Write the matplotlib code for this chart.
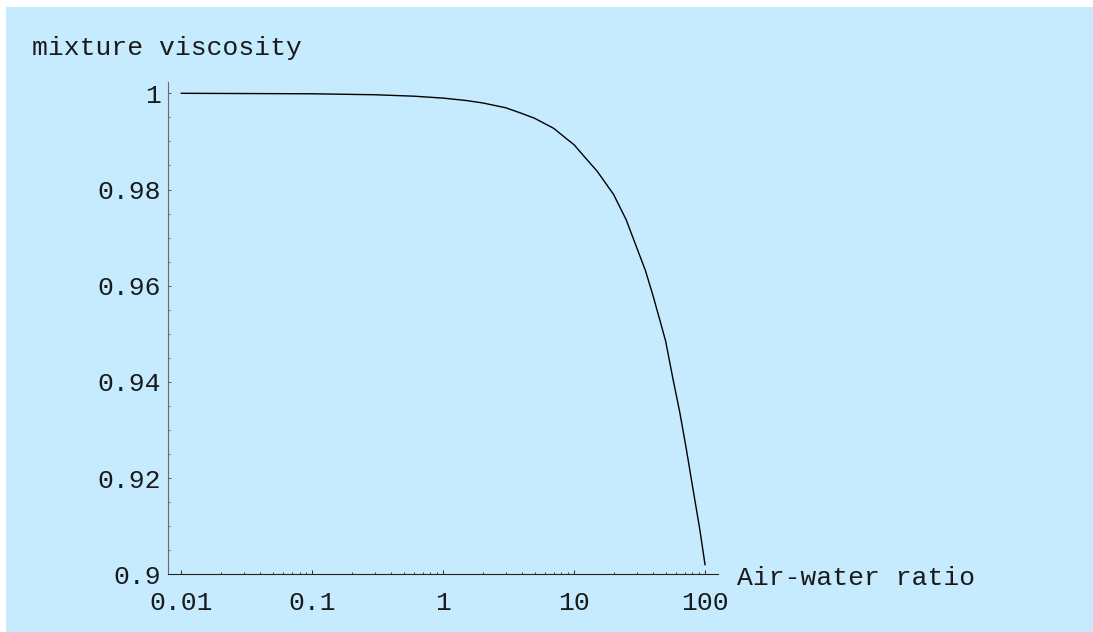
import matplotlib
matplotlib.use("Agg")
import matplotlib.pyplot as plt
import numpy as np
from matplotlib.patches import Rectangle
from matplotlib.ticker import FixedLocator, FixedFormatter, NullFormatter

# Data
air_water_ratio = [0.01, 0.1, 0.3, 0.6, 1, 1.5, 2, 3, 4, 5, 7, 8.8, 10, 12, 15, 20, 25, 30,
                   35, 40, 45, 50, 57, 64, 72, 80, 91, 100]
mixture_viscosity = [1.0, 0.9999, 0.9997, 0.9994, 0.999, 0.9985, 0.998, 0.997, 0.9958, 0.9948,
                     0.9927, 0.9905, 0.9893, 0.9868, 0.9838, 0.979, 0.9737, 0.968,
                     0.9632, 0.958, 0.953, 0.9485, 0.9405, 0.9338, 0.926, 0.9185, 0.9095, 0.902]
x_ticks = [0.01, 0.1, 1, 10, 100]
x_tick_labels = ["0.01", "0.1", "1", "10", "100"]
y_ticks = [0.9, 0.92, 0.94, 0.96, 0.98, 1.0]
y_tick_labels = ["0.9", "0.92", "0.94", "0.96", "0.98", "1"]
y_label = "mixture viscosity"
x_label = "Air-water ratio"

W, H = 1093, 632
FONT = ["Liberation Mono", "DejaVu Sans Mono"]
FS = 19
TXT = "#1a1a1a"
BG = "#c6ebff"

fig = plt.figure(figsize=(W / 100, H / 100), dpi=100, facecolor="white")
fig.patches.append(Rectangle((6 / W, 0), 1 - 6 / W, 1 - 7 / H, transform=fig.transFigure,
                             facecolor=BG, edgecolor="none", zorder=-10))

left, right, top, bottom = 168, 718, 82, 574.3
ax = fig.add_axes([left / W, (H - bottom) / H, (right - left) / W, (bottom - top) / H])
ax.set_facecolor("none")
ax.set_xscale("log")
ax.plot(air_water_ratio, mixture_viscosity, color="black", lw=1.0, solid_joinstyle="round")

ax.set_xlim(10 ** -2.1015, 10 ** 2.099)
ax.set_ylim(0.9, 1.00235)

for s in ["top", "right"]:
    ax.spines[s].set_visible(False)
ax.spines["left"].set_color("#6a6a6a")
ax.spines["left"].set_linewidth(0.8)
ax.spines["bottom"].set_color("#222222")
ax.spines["bottom"].set_linewidth(0.8)

ax.xaxis.set_major_locator(FixedLocator(x_ticks))
ax.xaxis.set_major_formatter(FixedFormatter(x_tick_labels))
minor_x = [m * 10.0 ** e for e in range(-2, 2) for m in range(2, 10)]
ax.xaxis.set_minor_locator(FixedLocator(minor_x))
ax.xaxis.set_minor_formatter(NullFormatter())

ax.yaxis.set_major_locator(FixedLocator(y_ticks))
ax.yaxis.set_major_formatter(FixedFormatter(y_tick_labels))
ax.yaxis.set_minor_locator(FixedLocator([0.9 + 0.005 * i for i in range(21)]))

ax.tick_params(axis="x", which="major", direction="in", length=2.8, width=0.75, color="#333333",
               pad=12, labelsize=FS, labelcolor=TXT)
ax.tick_params(axis="x", which="minor", direction="in", length=1.8, width=0.65, color="#333333")
ax.tick_params(axis="y", which="major", direction="in", length=2.4, width=0.7, color="#555555",
               pad=5, labelsize=FS, labelcolor=TXT)
ax.tick_params(axis="y", which="minor", direction="in", length=1.6, width=0.6, color="#555555")
for lab in ax.get_xticklabels() + ax.get_yticklabels():
    lab.set_family(FONT)

fig.text(32 / W, 1 - 55 / H, y_label, fontsize=FS, family=FONT, color=TXT, ha="left", va="baseline")
fig.text(737 / W, 1 - 585 / H, x_label, fontsize=FS, family=FONT, color=TXT, ha="left", va="baseline")

fig.savefig("out.png", dpi=100, facecolor="white")
